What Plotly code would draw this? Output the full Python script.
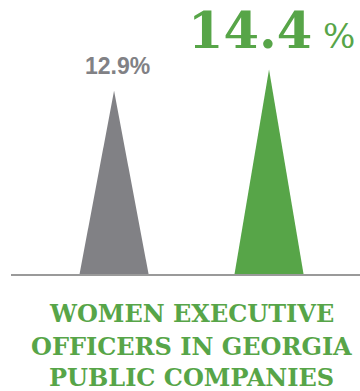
import plotly.graph_objects as go

categories = ["Previous", "Current"]
values = [12.9, 14.4]
labels = ["12.9%", "14.4"]
title_lines = ["WOMEN EXECUTIVE", "OFFICERS IN GEORGIA", "PUBLIC COMPANIES"]
colors = ["#818185", "#57a548"]

HALF = 0.2226
fig = go.Figure()
for i, (c, v) in enumerate(zip(categories, values)):
    fig.add_trace(go.Scatter(
        x=[i - HALF, i, i + HALF, i - HALF],
        y=[0, v, 0, 0],
        fill="toself", fillcolor=colors[i],
        line=dict(width=0, color=colors[i]),
        mode="lines", hoverinfo="skip", showlegend=False, name=c,
    ))

# gray label
fig.add_annotation(x=0, y=values[0], xref="x", yref="y", text="<b>" + labels[0] + "</b>",
                   showarrow=False, yanchor="bottom", yshift=10, xshift=3,
                   font=dict(family="Liberation Sans", size=23, color=colors[0]))
# green label
fig.add_annotation(x=1, y=values[1], xref="x", yref="y",
                   text="<b>" + labels[1] + "</b><span style='font-size:34px;font-weight:normal'> %</span>",
                   showarrow=False, yanchor="bottom", yshift=8, xshift=2,
                   font=dict(family="DejaVu Serif", size=51, color=colors[1]))

centers = [312, 345, 376]
for line, cy in zip(title_lines, centers):
    fig.add_annotation(x=0.5, y=0, xref="paper", yref="paper", text="<b>" + line + "</b>",
                       showarrow=False, yanchor="middle", yshift=-(cy - 274) - 1,
                       xshift=5.5,
                       font=dict(family="DejaVu Serif", size=24, color=colors[1]))

fig.update_layout(
    width=360, height=391,
    margin=dict(l=11, r=0, t=0, b=117),
    paper_bgcolor="white", plot_bgcolor="white",
    xaxis=dict(range=[-0.665, 1.587], showgrid=False, zeroline=False, showticklabels=False,
               showline=True, linecolor="#9a9a9a", linewidth=2, fixedrange=True),
    yaxis=dict(range=[0, 19.3], showgrid=False, zeroline=False, showticklabels=False,
               showline=False, fixedrange=True),
)
fig.write_html("out.html")
